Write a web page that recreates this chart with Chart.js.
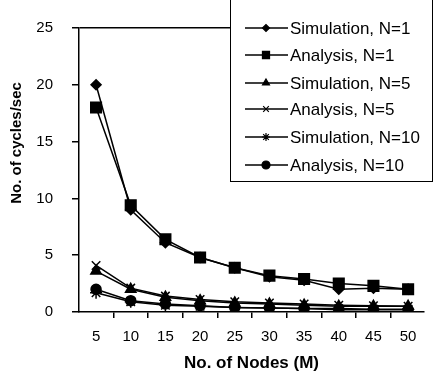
<!DOCTYPE html>
<html lang="en">
<head>
  <meta charset="UTF-8">
  <title>Cycles per second vs nodes</title>
  <script src="https://cdn.jsdelivr.net/npm/chart.js"></script>
  <style>
    body {
      margin: 0;
      background: #fff;
    }
    #wrap {
      width: 433px;
      height: 377px;
    }
  </style>
</head>
<body>
  <div id="wrap">
    <canvas id="cyclesChart" width="433" height="377"></canvas>
  </div>

  <script>
    const nodes = [5, 10, 15, 20, 25, 30, 35, 40, 45, 50];
    const seriesNames = ['Simulation, N=1', 'Analysis, N=1', 'Simulation, N=5', 'Analysis, N=5', 'Simulation, N=10', 'Analysis, N=10'];
    const simN1 = [20, 9.0, 6.1, 4.8, 3.9, 3.1, 2.8, 2.0, 2.1, 2.0];
    const anaN1 = [18, 9.4, 6.4, 4.8, 3.9, 3.2, 2.9, 2.5, 2.3, 2.0];
    const simN5 = [3.6, 2.0, 1.3, 1.0, 0.8, 0.7, 0.6, 0.5, 0.5, 0.5];
    const anaN5 = [4.1, 2.1, 1.4, 1.1, 0.9, 0.8, 0.7, 0.6, 0.55, 0.5];
    const simN10 = [1.7, 0.9, 0.6, 0.5, 0.4, 0.35, 0.3, 0.3, 0.25, 0.25];
    const anaN10 = [2.0, 1.0, 0.7, 0.55, 0.4, 0.35, 0.3, 0.2, 0.2, 0.2];
    const yTicks = [0, 5, 10, 15, 20, 25];

    const FONT = "'Liberation Sans', Arial, sans-serif";

    // marker style per series: chart marker + smaller legend marker
    const markers = [
      { style: 'rectRot', r: 5, lr: 3.5 },
      { style: 'rect', r: 7.5, lr: 5 },
      { style: 'triangle', r: 6, lr: 4 },
      { style: 'crossRot', r: 6, lr: 4 },
      { style: 'star', r: 6, lr: 4 },
      { style: 'circle', r: 5, lr: 4 }
    ];
    const allValues = [simN1, anaN1, simN5, anaN5, simN10, anaN10];

    const datasets = allValues.map((vals, i) => ({
      label: seriesNames[i],
      data: vals.map((v, j) => ({ x: nodes[j], y: v })),
      borderColor: '#000',
      backgroundColor: '#000',
      borderWidth: 1.5,
      pointStyle: markers[i].style,
      pointRadius: markers[i].r,
      pointBorderWidth: 1.5,
      pointBackgroundColor: '#000',
      pointBorderColor: '#000',
      tension: 0
    }));

    function drawMarker(ctx, style, r, x, y) {
      if (Chart.helpers && Chart.helpers.drawPoint) {
        ctx.fillStyle = '#000';
        ctx.strokeStyle = '#000';
        ctx.lineWidth = 1.2;
        Chart.helpers.drawPoint(ctx, { pointStyle: style, radius: r, rotation: 0, borderWidth: 1.2 }, x, y);
        return;
      }
      ctx.beginPath();
      ctx.arc(x, y, r, 0, Math.PI * 2);
      ctx.fill();
    }

    const extras = {
      id: 'extras',
      afterDraw(chart) {
        const ctx = chart.ctx;
        ctx.save();

        // y axis title
        ctx.translate(17, 143);
        ctx.rotate(-Math.PI / 2);
        ctx.font = 'bold 15px ' + FONT;
        ctx.fillStyle = '#000';
        ctx.textAlign = 'center';
        ctx.textBaseline = 'middle';
        ctx.fillText('No. of cycles/sec', 0, 0);
        ctx.restore();

        // legend box
        ctx.save();
        ctx.fillStyle = '#fff';
        ctx.fillRect(230.5, -1, 202, 182.5);
        ctx.strokeStyle = '#000';
        ctx.lineWidth = 1;
        ctx.strokeRect(230.5, -1, 202, 182.5);

        const rowY = [28, 55, 83, 109, 137, 165];
        ctx.font = '17px ' + FONT;
        ctx.textBaseline = 'middle';
        ctx.textAlign = 'left';
        seriesNames.forEach((name, i) => {
          const y = rowY[i];
          ctx.strokeStyle = '#000';
          ctx.lineWidth = 1.5;
          ctx.beginPath();
          ctx.moveTo(245, y);
          ctx.lineTo(288, y);
          ctx.stroke();
          drawMarker(ctx, markers[i].style, markers[i].lr, 266, y);
          ctx.fillStyle = '#000';
          ctx.fillText(name, 290, y + 1);
        });
        ctx.restore();
      }
    };

    new Chart(document.getElementById('cyclesChart').getContext('2d'), {
      type: 'line',
      data: { datasets: datasets },
      options: {
        responsive: false,
        animation: false,
        devicePixelRatio: 1,
        layout: { padding: { top: 14, right: 0, left: 0, bottom: 0 } },
        plugins: {
          legend: { display: false },
          tooltip: { enabled: false }
        },
        scales: {
          x: {
            type: 'linear',
            min: 2.54,
            max: 52.29,
            afterBuildTicks: scale => {
              scale.ticks = nodes.map(v => ({ value: v }));
            },
            afterFit: scale => { scale.height = 65; },
            border: { color: '#000', width: 1.5 },
            grid: {
              offset: true,
              drawOnChartArea: false,
              color: '#000',
              tickColor: '#000',
              tickLength: 6,
              lineWidth: 1.5
            },
            ticks: {
              color: '#000',
              font: { family: FONT, size: 15 },
              padding: 10,
              maxRotation: 0,
              callback: v => String(v)
            },
            title: {
              display: true,
              text: 'No. of Nodes (M)',
              color: '#000',
              font: { family: FONT, size: 17, weight: 'bold' },
              padding: { top: 0, bottom: 3 }
            }
          },
          y: {
            min: 0,
            max: 25,
            afterBuildTicks: scale => {
              scale.ticks = yTicks.map(v => ({ value: v }));
            },
            afterFit: scale => { scale.width = 79; },
            border: { color: '#000', width: 1.5 },
            grid: {
              drawOnChartArea: true,
              color: ctx => (ctx.tick && ctx.tick.value === 25 ? '#000' : 'rgba(0,0,0,0)'),
              tickColor: '#000',
              tickLength: 7,
              lineWidth: 1.5
            },
            ticks: {
              color: '#000',
              font: { family: FONT, size: 15 },
              padding: 19
            }
          }
        }
      },
      plugins: [extras]
    });
  </script>
</body>
</html>
